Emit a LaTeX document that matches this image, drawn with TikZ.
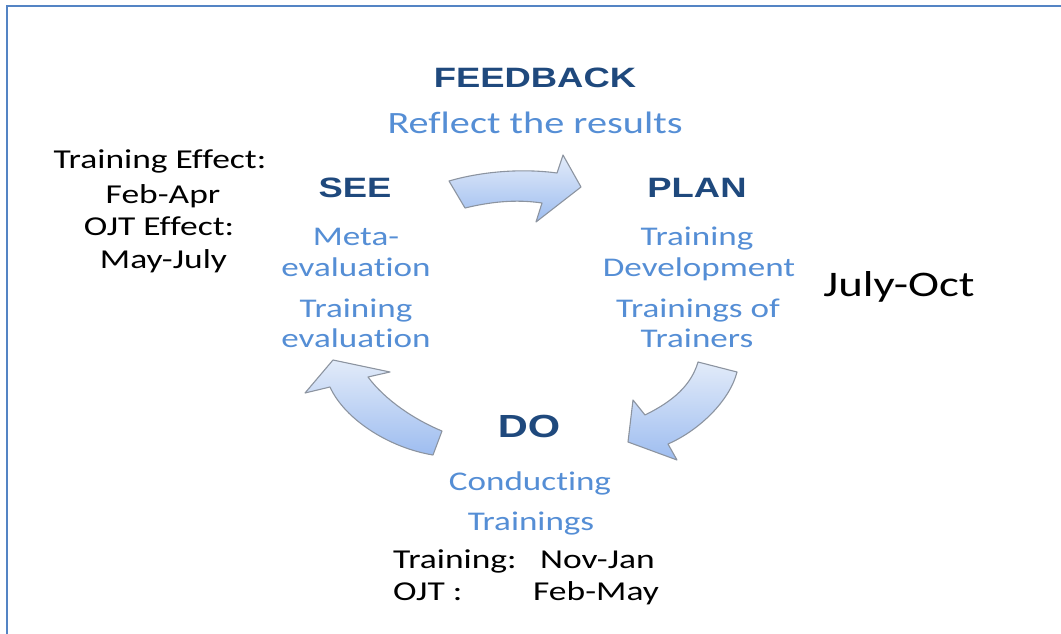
\documentclass[tikz,border=0pt]{standalone}
\usepackage{fontspec}
\newfontfamily\calfont[FakeStretch=1.3,Ligatures=NoCommon]{Carlito}
\newfontfamily\headfont[FakeStretch=1.3]{Liberation Sans}
\definecolor{headblue}{RGB}{31,73,125}
\definecolor{txtblue}{RGB}{85,142,213}
\definecolor{framecol}{RGB}{84,132,196}
\definecolor{arrtop}{RGB}{226,235,249}
\definecolor{arrbot}{RGB}{158,189,240}
\definecolor{arrline}{RGB}{140,148,160}
\tikzset{
  head/.style={font=\headfont\bfseries\fontsize{28}{30}\selectfont, text=headblue, anchor=base, inner sep=0pt},
  bluetxt/.style={font=\calfont\fontsize{27}{30}\selectfont, text=txtblue, anchor=base, inner sep=0pt},
  blktxt/.style={font=\calfont\fontsize{27.3}{30}\selectfont, text=black, anchor=base, inner sep=0pt},
  cyclearrow/.style={top color=arrtop, bottom color=arrbot, draw=arrline, line width=1.1pt, line join=round},
  framebar/.style={draw=framecol, line width=2.6pt}
}
\begin{document}
\begin{tikzpicture}[x=1pt,y=-1pt]
\useasboundingbox (0,0) rectangle (1061,634);
% frame
\draw[framebar] (7,634) -- (7,6) -- (1061,6);
% arrows
\path[cyclearrow] (449,181) .. controls (480,172) and (520,168) .. (557,173) -- (563,155) -- (581,187) -- (536,222) -- (542,203) .. controls (515,199) and (490,202) .. (465,208) -- cycle;
\path[cyclearrow] (698,362) -- (737,372) .. controls (730,400) and (700,430) .. (668,444) -- (677,460) -- (628,442) -- (633,400) -- (645,415) .. controls (665,405) and (690,390) .. (698,362) -- cycle;
\path[cyclearrow] (442,431) .. controls (415,420) and (385,400) .. (368,377) -- (390,372) -- (333,360) -- (305,393) -- (330,387) .. controls (345,420) and (390,448) .. (433,455) -- cycle;
% feedback
\node[head] (fb) at (535,88) {FEEDBACK};
\node[bluetxt, font=\calfont\fontsize{31}{34}\selectfont] (fbt) at (535,133) {Reflect the results};
% see
\node[head] (see) at (355,197) {SEE};
\node[bluetxt] (see1) at (356,245) {Meta-};
\node[bluetxt] (see2) at (356,276) {evaluation};
\node[bluetxt] (see3) at (356,317) {Training};
\node[bluetxt] (see4) at (356,347) {evaluation};
% plan
\node[head] (plan) at (697,197) {PLAN};
\node[bluetxt] (plan1) at (697,245) {Training};
\node[bluetxt] (plan2) at (699,276) {Development};
\node[bluetxt] (plan3) at (698,317) {Trainings of};
\node[bluetxt] (plan4) at (697,347) {Trainers};
% do
\node[head, font=\headfont\bfseries\fontsize{32}{34}\selectfont] (do) at (529,437) {DO};
\node[bluetxt] (do1) at (530,490) {Conducting};
\node[bluetxt] (do2) at (531,530) {Trainings};
% black notes
\node[blktxt] (e1) at (160,168) {Training Effect:};
\node[blktxt] (e2) at (163,203) {Feb-Apr};
\node[blktxt] (e3) at (159,235) {OJT Effect:};
\node[blktxt] (e4) at (163.5,268) {May-July};
\node[blktxt, anchor=base west] (t1) at (393,568) {Training:};
\node[blktxt, anchor=base west] (t2) at (540,568) {Nov-Jan};
\node[blktxt, anchor=base west] (t3) at (393,600) {OJT :};
\node[blktxt, anchor=base west] (t4) at (533,600) {Feb-May};
\node[blktxt, font=\calfont\fontsize{36}{40}\selectfont] (jo) at (899,296) {July-Oct};
\end{tikzpicture}
\end{document}
